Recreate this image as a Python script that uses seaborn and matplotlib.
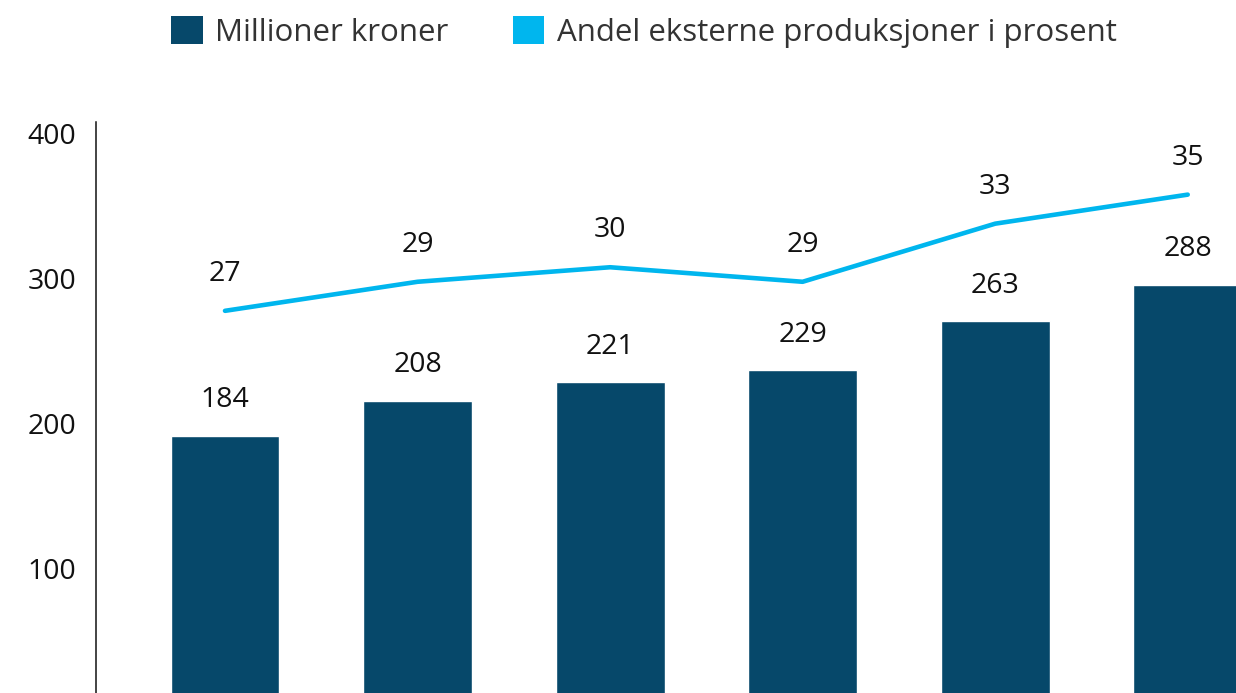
import numpy as np
import pandas as pd
import seaborn as sns
import matplotlib
matplotlib.use("Agg")
import matplotlib.pyplot as plt
from matplotlib.patches import Patch
from matplotlib.transforms import ScaledTranslation

# Data (x-axis category labels are cropped out of the reference)
periods = ["P1", "P2", "P3", "P4", "P5", "P6"]
millioner_kroner = [184, 208, 221, 229, 263, 288]
andel_eksterne = [27, 29, 30, 29, 33, 35]
y_ticks = [100, 200, 300, 400]

bar_color = "#06486A"
line_color = "#00B6EE"

sns.set_theme(style="white")
plt.rcParams["font.family"] = ["Open Sans", "DejaVu Sans"]

df = pd.DataFrame({"pos": np.arange(len(periods)), "periode": periods,
                   "mill": millioner_kroner, "andel": andel_eksterne})

fig = plt.figure(figsize=(12.36, 6.93), dpi=100)
ax = fig.add_axes([96/1236, -10/693, (1284-96)/1236, 581/693])

sns.barplot(data=df, x="pos", y="mill", native_scale=True, width=0.566,
            color=bar_color, saturation=1, ax=ax)
ax.set_ylim(0, 400)
ax.set_xlim(-0.67, 5.5)
ax.set_yticks(y_ticks)
ax.set_yticklabels([str(t) for t in y_ticks])
ax.set_xticks([])
ax.set_xlabel("")
ax.set_ylabel("")
ax.tick_params(axis="y", length=0, pad=14, labelsize=20.5, labelcolor="#111111")
for s in ["top", "right", "bottom"]:
    ax.spines[s].set_visible(False)
ax.spines["left"].set_color("#111111")
ax.spines["left"].set_linewidth(1.1)
for lab in ax.get_yticklabels():
    lab.set_transform(lab.get_transform() + ScaledTranslation(0, -11/100, fig.dpi_scale_trans))

for x, v in zip(df["pos"], df["mill"]):
    ax.annotate(str(v), (x, v), xytext=(0, 25.5), textcoords="offset points",
                ha="center", va="center", fontsize=20.5, color="#111111")

ax2 = ax.twinx()
sns.lineplot(data=df, x="pos", y="andel", color=line_color, linewidth=3.3, ax=ax2)
ax2.set_ylim(0, 40)
ax2.set_xlim(-0.67, 5.5)
ax2.axis("off")
for x, v in zip(df["pos"], df["andel"]):
    ax2.annotate(str(v), (x, v), xytext=(0, 26.5), textcoords="offset points",
                 ha="center", va="center", fontsize=20.5, color="#111111")

handles = [Patch(facecolor=bar_color, edgecolor="none"),
           Patch(facecolor=line_color, edgecolor="none")]
fig.legend(handles, ["Millioner kroner", "Andel eksterne produksjoner i prosent"],
           loc="upper center", bbox_to_anchor=(0.521, 1.017), ncol=2, frameon=False,
           fontsize=22.5, handlelength=1.0, handleheight=1.0, handletextpad=0.4,
           columnspacing=2.06, labelcolor="#333333")

fig.savefig("out.png", dpi=100)
